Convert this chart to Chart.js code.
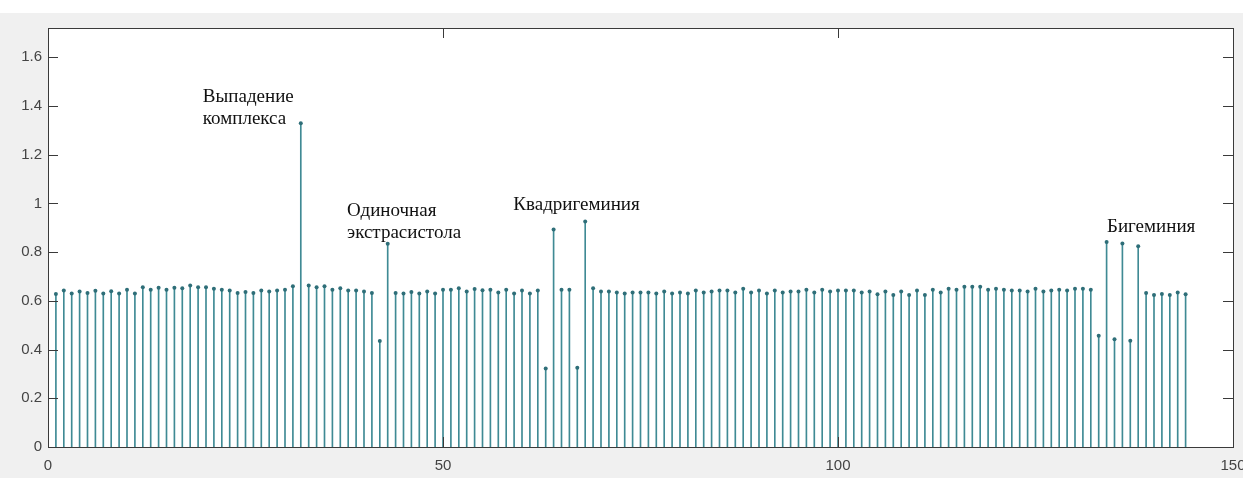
<!DOCTYPE html>
<html>
<head>
<meta charset="utf-8">
<script src="https://cdn.jsdelivr.net/npm/chart.js@4.4.0/dist/chart.umd.min.js"></script>
<style>
  html, body { margin: 0; padding: 0; background: #fff; }
  #wrap { position: absolute; left: 0; top: 13px; width: 1243px; height: 465px; background: #f0f0f0; }
</style>
</head>
<body>
<div id="wrap"><canvas id="chart" width="1243" height="465"></canvas></div>
<script>
// RR-интервалы (с), отсчёты 1..144
const rrValues = [
  0.628, 0.642, 0.630, 0.638, 0.632, 0.641, 0.630, 0.639, 0.630, 0.646,
  0.630, 0.656, 0.646, 0.654, 0.646, 0.654, 0.652, 0.663, 0.656, 0.656,
  0.650, 0.646, 0.642, 0.632, 0.636, 0.632, 0.642, 0.638, 0.642, 0.646,
  0.660, 1.329, 0.663, 0.656, 0.660, 0.646, 0.652, 0.642, 0.642, 0.638,
  0.632, 0.435, 0.834, 0.632, 0.630, 0.636, 0.630, 0.638, 0.630, 0.646,
  0.646, 0.652, 0.638, 0.649, 0.643, 0.646, 0.634, 0.646, 0.630, 0.642,
  0.630, 0.642, 0.322, 0.893, 0.646, 0.646, 0.325, 0.926, 0.652, 0.638,
  0.638, 0.634, 0.630, 0.634, 0.634, 0.634, 0.630, 0.638, 0.630, 0.634,
  0.630, 0.642, 0.634, 0.638, 0.642, 0.642, 0.634, 0.650, 0.634, 0.642,
  0.630, 0.642, 0.634, 0.638, 0.638, 0.646, 0.634, 0.646, 0.638, 0.642,
  0.642, 0.642, 0.634, 0.638, 0.627, 0.638, 0.624, 0.638, 0.624, 0.642,
  0.624, 0.646, 0.634, 0.650, 0.646, 0.658, 0.658, 0.658, 0.646, 0.650,
  0.646, 0.642, 0.642, 0.638, 0.650, 0.638, 0.642, 0.646, 0.642, 0.650,
  0.650, 0.646, 0.457, 0.842, 0.442, 0.835, 0.436, 0.824, 0.632, 0.624,
  0.628, 0.624, 0.634, 0.627
];

const xTicks = [0, 50, 100, 150];
const yTicks = [0, 0.2, 0.4, 0.6, 0.8, 1, 1.2, 1.4, 1.6];

// подписи: первая строка привязана к (x, y) в единицах данных
const noteLines = [
  ['Выпадение', 'комплекса'],
  ['Одиночная', 'экстрасистола'],
  ['Квадригеминия'],
  ['Бигеминия']
];
const noteX = [19.6, 37.85, 58.9, 134.05];
const noteY = [1.435, 0.97, 0.995, 0.905];

const stemColor = '#3f8a94';
const headColor = '#2e6e78';
const points = rrValues.map((v, i) => ({ x: i + 1, y: v }));

const matlabAxes = {
  id: 'matlabAxes',
  beforeDraw(chart) {
    const { ctx, chartArea: a } = chart;
    ctx.save();
    ctx.fillStyle = '#ffffff';
    ctx.fillRect(a.left, a.top, a.right - a.left, a.bottom - a.top);
    ctx.restore();
  },
  afterDraw(chart) {
    const { ctx, chartArea: a, scales } = chart;
    const len = 10;
    ctx.save();
    ctx.strokeStyle = '#3a3a3a';
    ctx.lineWidth = 1;
    ctx.beginPath();
    yTicks.forEach(t => {
      const y = Math.round(scales.y.getPixelForValue(t)) + 0.5;
      ctx.moveTo(a.left, y); ctx.lineTo(a.left + len, y);
      ctx.moveTo(a.right, y); ctx.lineTo(a.right - len, y);
    });
    xTicks.forEach(t => {
      const x = Math.round(scales.x.getPixelForValue(t)) + 0.5;
      ctx.moveTo(x, a.bottom); ctx.lineTo(x, a.bottom - len);
      ctx.moveTo(x, a.top); ctx.lineTo(x, a.top + len);
    });
    ctx.stroke();
    ctx.strokeRect(Math.round(a.left) + 0.5, Math.round(a.top) + 0.5,
      Math.round(a.right - a.left), Math.round(a.bottom - a.top));

    ctx.fillStyle = '#111111';
    ctx.font = '19px "Liberation Serif", "Times New Roman", serif';
    ctx.textBaseline = 'middle';
    ctx.textAlign = 'left';
    noteLines.forEach((lines, i) => {
      const x = scales.x.getPixelForValue(noteX[i]);
      const y = scales.y.getPixelForValue(noteY[i]);
      lines.forEach((s, j) => ctx.fillText(s, x, y + j * 22));
    });
    ctx.restore();
  }
};

new Chart(document.getElementById('chart'), {
  data: {
    datasets: [
      {
        type: 'scatter',
        data: points,
        pointRadius: 2,
        pointHoverRadius: 2,
        pointBackgroundColor: headColor,
        pointBorderWidth: 0,
        showLine: false
      },
      {
        type: 'bar',
        data: points,
        backgroundColor: stemColor,
        barThickness: 1,
        borderWidth: 0
      }
    ]
  },
  options: {
    responsive: false,
    animation: false,
    events: [],
    layout: { padding: { top: 15, right: 10, left: 0, bottom: 0 } },
    plugins: { legend: { display: false }, tooltip: { enabled: false } },
    scales: {
      x: {
        type: 'linear',
        min: 0,
        max: 150,
        offset: false,
        grid: { display: false, drawTicks: false },
        border: { display: false },
        afterFit: s => { s.height = 31; s.paddingLeft = 0; s.paddingRight = 0; },
        afterBuildTicks: s => { s.ticks = xTicks.map(v => ({ value: v })); },
        ticks: {
          padding: 10,
          maxRotation: 0,
          color: '#444444',
          font: { family: '"Liberation Sans", Arial, sans-serif', size: 15 }
        }
      },
      y: {
        min: 0,
        max: 1.72,
        grid: { display: false, drawTicks: false },
        border: { display: false },
        afterFit: s => { s.width = 48; s.paddingTop = 0; s.paddingBottom = 0; },
        afterBuildTicks: s => { s.ticks = yTicks.map(v => ({ value: v })); },
        ticks: {
          padding: 6,
          color: '#444444',
          font: { family: '"Liberation Sans", Arial, sans-serif', size: 15 },
          callback: v => String(+v.toFixed(1))
        }
      }
    }
  },
  plugins: [matlabAxes]
});
</script>
</body>
</html>
